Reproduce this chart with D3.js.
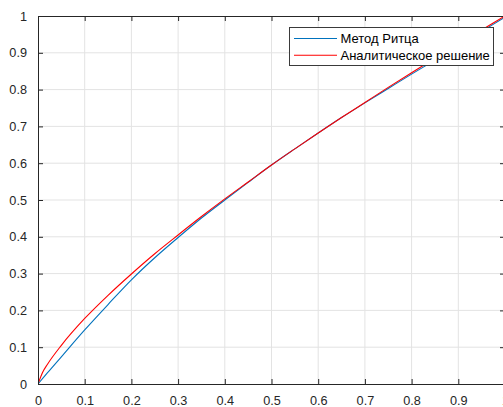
<!DOCTYPE html>
<html>
<head>
<meta charset="utf-8">
<script src="https://cdn.jsdelivr.net/npm/d3@7"></script>
<style>
    html, body { margin: 0; padding: 0; background: #fff; overflow: hidden; }
    text { font-family: "Liberation Sans", Arial, sans-serif; }
</style>
</head>
<body>
<svg id="chart" width="503" height="407"></svg>
<script>
var xValues = [0, 0.01, 0.02, 0.05, 0.1, 0.15, 0.2, 0.25, 0.3, 0.35, 0.4, 0.45, 0.5, 0.55, 0.6, 0.65, 0.7, 0.75, 0.8, 0.85, 0.9, 0.95, 1];
// Метод Ритца
var ritzValues = [0, 0.015, 0.03, 0.074, 0.147, 0.216, 0.283, 0.343, 0.398, 0.451, 0.500, 0.548, 0.595, 0.639, 0.682, 0.724, 0.764, 0.803, 0.842, 0.880, 0.919, 0.958, 0.997];
// Аналитическое решение
var exactValues = [0, 0.032, 0.053, 0.105, 0.178, 0.241, 0.299, 0.354, 0.405, 0.455, 0.503, 0.549, 0.595, 0.639, 0.682, 0.724, 0.765, 0.806, 0.846, 0.885, 0.924, 0.962, 1];
var tickValues = [0, 0.1, 0.2, 0.3, 0.4, 0.5, 0.6, 0.7, 0.8, 0.9, 1];
var legendNames = ["Метод Ритца", "Аналитическое решение"];
var lineColors = ["#0072bd", "#ff0000"];

var plotLeft = 38, plotRight = 505, plotTop = 16, plotBottom = 384;
var tickLen = 5;

var svg = d3.select("#chart");
var x = d3.scaleLinear().domain([0, 1]).range([plotLeft, plotRight]);
var y = d3.scaleLinear().domain([0, 1]).range([plotBottom, plotTop]);

// grid
svg.append("g").selectAll("line")
    .data(tickValues.slice(1, -1))
    .enter().append("line")
    .attr("x1", function(d) { return x(d); })
    .attr("x2", function(d) { return x(d); })
    .attr("y1", plotTop)
    .attr("y2", plotBottom)
    .attr("stroke", "#e3e3e3")
    .attr("stroke-width", 1);

svg.append("g").selectAll("line")
    .data(tickValues.slice(1, -1))
    .enter().append("line")
    .attr("x1", plotLeft)
    .attr("x2", plotRight)
    .attr("y1", function(d) { return y(d); })
    .attr("y2", function(d) { return y(d); })
    .attr("stroke", "#e3e3e3")
    .attr("stroke-width", 1);

// curves
var seriesList = [ritzValues, exactValues];
var line = d3.line()
    .x(function(d, i) { return x(xValues[i]); })
    .y(function(d) { return y(d); })
    .curve(d3.curveMonotoneX);

svg.append("defs").append("clipPath").attr("id", "plotClip")
    .append("rect")
    .attr("x", plotLeft).attr("y", plotTop)
    .attr("width", plotRight - plotLeft).attr("height", plotBottom - plotTop);

svg.append("g").attr("clip-path", "url(#plotClip)")
    .selectAll("path")
    .data(seriesList)
    .enter().append("path")
    .attr("d", line)
    .attr("fill", "none")
    .attr("stroke", function(d, i) { return lineColors[i]; })
    .attr("stroke-width", 1.1);

// axes
function styleAxis(g) {
    g.attr("font-size", null).attr("font-family", null);
    g.select(".domain").attr("stroke", "#262626").attr("stroke-width", 1);
    g.selectAll(".tick line").attr("stroke", "#262626");
    g.selectAll(".tick text")
        .attr("fill", "#262626")
        .style("font-size", "12.7px")
        .style("font-family", "'Liberation Sans', Arial, sans-serif");
}

var fmt = function(d) { return d3.format("")(d); };

svg.append("g")
    .attr("transform", "translate(0," + plotBottom + ")")
    .call(d3.axisBottom(x).tickValues(tickValues).tickFormat(fmt)
        .tickSizeInner(-tickLen).tickSizeOuter(0).tickPadding(12))
    .call(styleAxis);

svg.append("g")
    .attr("transform", "translate(" + plotLeft + ",0)")
    .call(d3.axisLeft(y).tickValues(tickValues).tickFormat(fmt)
        .tickSizeInner(-tickLen).tickSizeOuter(0).tickPadding(11))
    .call(styleAxis);

svg.append("g")
    .attr("transform", "translate(0," + plotTop + ")")
    .call(d3.axisTop(x).tickValues(tickValues).tickFormat("")
        .tickSizeInner(-tickLen).tickSizeOuter(0))
    .call(styleAxis);

svg.append("g")
    .attr("transform", "translate(" + plotRight + ",0)")
    .call(d3.axisRight(y).tickValues(tickValues).tickFormat("")
        .tickSizeInner(-tickLen).tickSizeOuter(0))
    .call(styleAxis);

// legend
var legend = svg.append("g");
legend.append("rect")
    .attr("x", 289.5).attr("y", 27.5)
    .attr("width", 204).attr("height", 38)
    .attr("fill", "#fff")
    .attr("stroke", "#3a3a3a")
    .attr("stroke-width", 1);

var rows = legend.selectAll("g.row")
    .data(legendNames)
    .enter().append("g")
    .attr("transform", function(d, i) { return "translate(0," + (38.5 + i * 16.7) + ")"; });

rows.append("line")
    .attr("x1", 294).attr("x2", 337)
    .attr("y1", 0).attr("y2", 0)
    .attr("stroke", function(d, i) { return lineColors[i]; })
    .attr("stroke-width", 1.1);

rows.append("text")
    .attr("x", 340.5).attr("y", 4.5)
    .attr("fill", "#000")
    .style("font-size", "13px")
    .text(function(d) { return d; });
</script>
</body>
</html>
